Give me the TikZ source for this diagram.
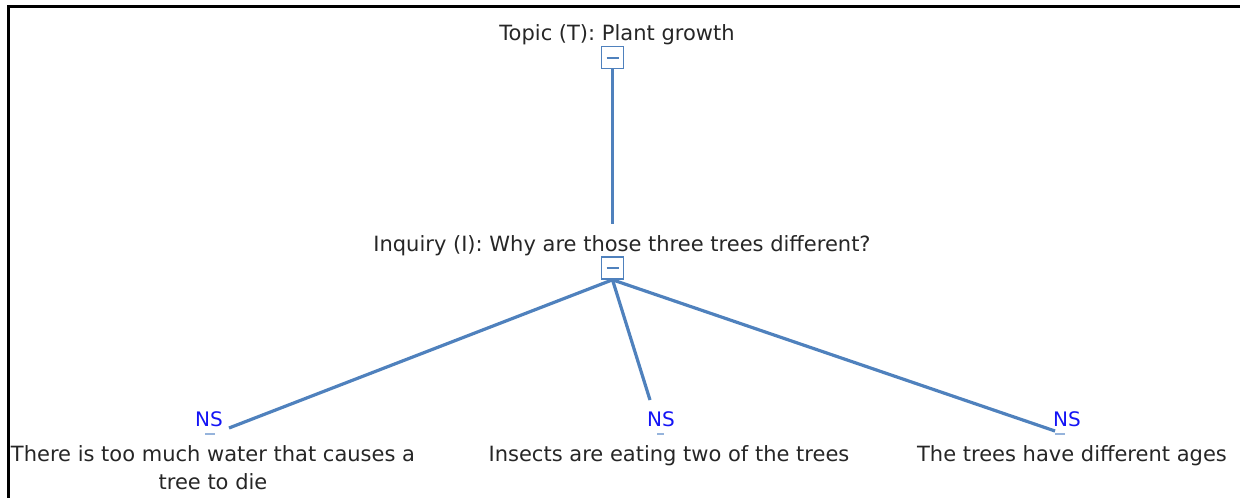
\documentclass[tikz,border=0pt]{standalone}
\usepackage{fontspec}
\setmainfont{DejaVu Sans}
\definecolor{linkblue}{RGB}{79,129,189}
\definecolor{nsblue}{RGB}{20,20,245}
\definecolor{tickblue}{RGB}{150,180,220}
\begin{document}
\begin{tikzpicture}[x=1pt,y=-1pt,
  lbl/.style={anchor=base,inner sep=0pt,font=\fontsize{21}{24}\selectfont,text=black!85},
  nslbl/.style={anchor=base,inner sep=0pt,font=\fontsize{20}{24}\selectfont,text=nsblue},
  toggle/.style={draw=linkblue,line width=1.6pt,fill=white,minimum size=22pt,inner sep=0pt},
  minus/.style={draw=linkblue,line width=2pt},
  link/.style={draw=linkblue,line width=3.2pt},
  tick/.style={draw=tickblue,line width=1.2pt}]
\useasboundingbox (0,0) rectangle (1240,498);
% frame: top and left edges only
\draw[line width=3pt,black] (8,498) -- (8,6) -- (1240,6);

% topic
\node[lbl] (topic) at (617,40) {Topic (T): Plant growth};
\node[toggle] (tbox) at (612.5,57.5) {};
\draw[minus] ([xshift=-6pt]tbox.center) -- ([xshift=6pt]tbox.center);

% inquiry
\node[lbl] (inq) at (622,251) {Inquiry (I): Why are those three trees different?};
\node[toggle] (ibox) at (612.5,268) {};
\draw[minus] ([xshift=-6pt]ibox.center) -- ([xshift=6pt]ibox.center);

\draw[link] (tbox.south) -- (612.5,224) coordinate (tend);

% suggestions
\node[nslbl] (ns1) at (209,426) {NS};
\node[nslbl] (ns2) at (661,426) {NS};
\node[nslbl] (ns3) at (1067,426) {NS};
\coordinate (e1) at (229,428);
\coordinate (e2) at (650,400);
\coordinate (e3) at (1055,431);
\draw[link] (ibox.south) -- (e1);
\draw[link] (ibox.south) -- (e2);
\draw[link] (ibox.south) -- (e3);
\draw[tick] (205,434) -- (215,434);
\draw[tick] (657,434) -- (664,434);
\draw[tick] (1055,434) -- (1065,434);

\node[lbl] (s1a) at (213,461) {There is too much water that causes a};
\node[lbl] (s1b) at (213,489) {tree to die};
\node[lbl] (s2) at (669,461) {Insects are eating two of the trees};
\node[lbl] (s3) at (1072,461) {The trees have different ages};
\end{tikzpicture}
\end{document}
